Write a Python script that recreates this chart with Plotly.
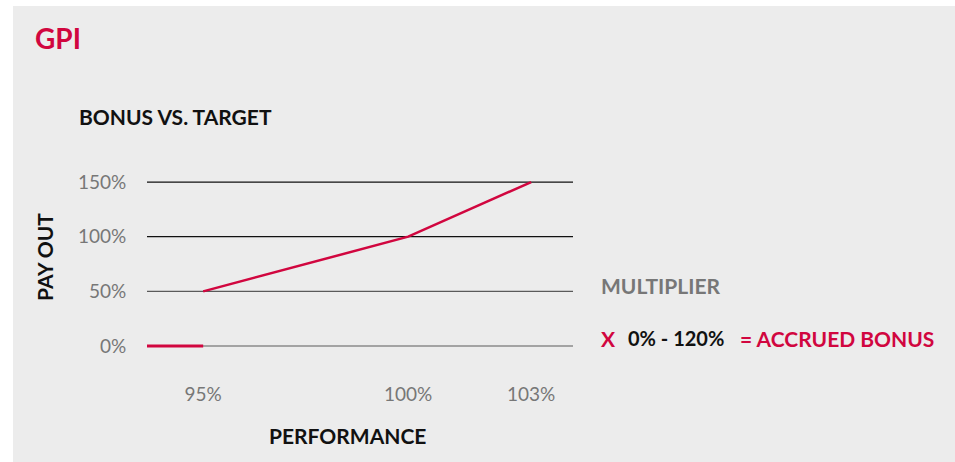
import plotly.graph_objects as go

# ---- data ----
zero_x = [93.63, 95]
zero_y = [0, 0]
perf_x = [95, 100, 103]
payout_y = [50, 100, 150]
x_tickvals = [95, 100, 103]
x_ticktext = ["95%", "100%", "103%"]
y_tickvals = [0, 50, 100, 150]
y_ticktext = ["0%", "50%", "100%", "150%"]
grid_colors = ["#5a5a5a", "#5a5a5a", "#111111", "#111111"]

RED = "#d1063f"
GRAY_TXT = "#777777"
BG = "#ececec"
FONT = "Lato"

W, H = 955, 462
L, R, T, B = 147, 382, 170, 102
PW, PH = W - L - R, H - T - B


def px(x):
    return (x - L) / PW


def py(y):
    return (H - B - y) / PH


fig = go.Figure()
fig.add_trace(go.Scatter(x=zero_x, y=zero_y, mode="lines",
                         line=dict(color=RED, width=3), hoverinfo="skip"))
fig.add_trace(go.Scatter(x=perf_x, y=payout_y, mode="lines",
                         line=dict(color=RED, width=2.5), hoverinfo="skip"))

shapes = [dict(type="rect", xref="paper", yref="paper",
               x0=px(13), x1=px(960), y0=py(466), y1=py(6),
               fillcolor=BG, line=dict(width=0), layer="below")]
for v, c in zip(y_tickvals, grid_colors):
    shapes.append(dict(type="line", xref="paper", yref="y", x0=0, x1=1, y0=v, y1=v,
                       line=dict(color=c, width=1.2), layer="below"))

bold = dict(family=FONT, size=21, color="#111111", weight="bold")

annotations = [
    dict(text="GPI", x=px(33), y=py(38), xanchor="left", yanchor="middle",
         font=dict(family=FONT, size=28, color=RED, weight="bold")),
    dict(text="BONUS VS. TARGET", x=px(77), y=py(116), xanchor="left", yanchor="middle",
         font=bold),
    dict(text="PAY OUT", x=px(44), y=py(257), xanchor="center", yanchor="middle",
         textangle=-90, font=dict(family=FONT, size=21, color="#111111", weight="bold")),
    dict(text="PERFORMANCE", x=px(347), y=py(435), xanchor="center", yanchor="middle",
         font=bold),
    dict(text="MULTIPLIER", x=px(599), y=py(285), xanchor="left", yanchor="middle",
         font=dict(family=FONT, size=21, color=GRAY_TXT, weight="bold")),
    dict(text="X", x=px(599), y=py(338), xanchor="left", yanchor="middle",
         font=dict(family=FONT, size=21, color=RED, weight="bold")),
    dict(text="0% - 120%", x=px(626), y=py(338), xanchor="left", yanchor="middle",
         font=dict(family=FONT, size=20, color="#111111", weight="bold")),
    dict(text="= ACCRUED BONUS", x=px(738), y=py(338), xanchor="left", yanchor="middle",
         font=dict(family=FONT, size=21, color=RED, weight="bold")),
]
for a in annotations:
    a.update(xref="paper", yref="paper", showarrow=False)

fig.update_layout(
    width=W, height=H,
    margin=dict(l=L, r=R, t=T, b=B, pad=0),
    paper_bgcolor="white", plot_bgcolor="rgba(0,0,0,0)",
    showlegend=False,
    shapes=shapes, annotations=annotations,
    xaxis=dict(range=[93.63, 104.02], tickvals=x_tickvals, ticktext=x_ticktext,
               showgrid=False, zeroline=False, showline=False,
               ticks="outside", ticklen=17, tickcolor="rgba(0,0,0,0)",
               tickfont=dict(family=FONT, size=19, color=GRAY_TXT), fixedrange=True),
    yaxis=dict(range=[-12.8, 161], tickvals=y_tickvals, ticktext=y_ticktext,
               showgrid=False, zeroline=False, showline=False,
               ticks="outside", ticklen=16, tickcolor="rgba(0,0,0,0)",
               tickfont=dict(family=FONT, size=19, color=GRAY_TXT), fixedrange=True),
)

fig.write_html("out.html", config=dict(displayModeBar=False))
